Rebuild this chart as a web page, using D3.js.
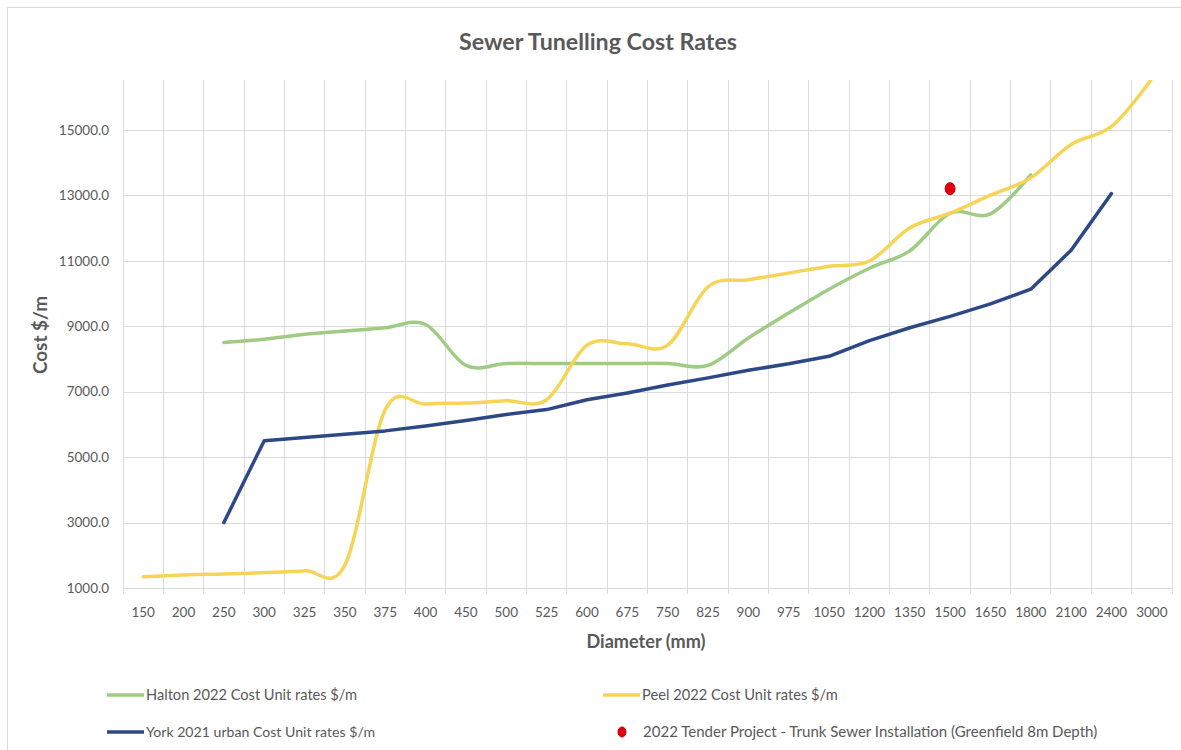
<!DOCTYPE html>
<html><head><meta charset="utf-8">
<script src="https://cdn.jsdelivr.net/npm/d3@7"></script>
<style>
html,body{margin:0;padding:0;background:#fff;}
svg{display:block;font-family:Lato,"Open Sans",sans-serif;}
</style></head>
<body>
<svg id="chart" width="1181" height="750"></svg>
<script>
// ---- data ----
const categories = ["150","200","250","300","325","350","375","400","450","500","525","600","675","750","825","900","975","1050","1200","1350","1500","1650","1800","2100","2400","3000"];
const halton = [null,null,8500,8600,8750,8850,8950,9050,7800,7860,7860,7860,7860,7860,7800,8640,9400,10130,10770,11300,12450,12430,13620,null,null,null];
const peel   = [1340,1400,1430,1470,1530,1700,6450,6620,6650,6720,6750,8420,8460,8420,10200,10420,10620,10830,10990,12000,12450,13000,13530,14550,15100,16560];
const york   = [null,null,3000,5500,5600,5700,5800,5950,6120,6300,6450,6750,6960,7200,7420,7650,7850,8080,8560,8950,9300,9680,10130,11320,13050,null];
const tenderCategory = ["1500"];
const tenderValue = [13200];
const yTicks = [1000,3000,5000,7000,9000,11000,13000,15000];
const seriesNames = ["Halton 2022 Cost Unit rates $/m","Peel 2022 Cost Unit rates $/m","York 2021 urban Cost Unit rates $/m","2022 Tender Project - Trunk Sewer Installation (Greenfield 8m Depth)"];
const titleText = "Sewer Tunelling Cost Rates";
const xTitle = "Diameter (mm)";
const yTitle = "Cost $/m";

// ---- layout ----
const svg = d3.select("#chart");
const L = 123, R = 1172, T = 80, B = 588;
const colors = {halton:"#9fcb84", peel:"#f6d456", york:"#2c4885", tender:"#e3000f", text:"#595959", grid:"#dcdcdc"};

function fit(sel, target){
  sel.each(function(){
    const el = this;
    let fs = parseFloat(el.getAttribute("font-size"));
    for(let k=0;k<4;k++){
      const w = el.getComputedTextLength();
      if(w>0){ fs = fs*target/w; el.setAttribute("font-size", fs.toFixed(2)); }
    }
  });
}

// border (top/left visible)
svg.append("rect").attr("x",7.5).attr("y",7.5).attr("width",1200).attr("height",800)
  .attr("fill","none").attr("stroke","#d9d9d9").attr("stroke-width",1);

const x = d3.scaleBand().domain(categories).range([L,R]).padding(0);
const y = d3.scaleLinear().domain([1000,16520]).range([B,T]);
const cx = c => x(c) + x.bandwidth()/2;

// vertical gridlines at category boundaries (extend below as tick marks)
const bounds = categories.map(c=>x(c)).concat([x(categories[categories.length-1])+x.bandwidth()]);
svg.append("g").selectAll("line").data(bounds).join("line")
  .attr("x1",d=>d).attr("x2",d=>d).attr("y1",T).attr("y2",B+6)
  .attr("stroke",colors.grid).attr("stroke-width",1).attr("shape-rendering","crispEdges");

// y axis with gridlines
const yAxis = svg.append("g").attr("transform",`translate(${L},0)`)
  .call(d3.axisLeft(y).tickValues(yTicks).tickFormat(d=>d.toFixed(1)).tickSize(-(R-L)).tickPadding(14));
yAxis.select(".domain").remove();
yAxis.selectAll(".tick line").attr("stroke",colors.grid).attr("shape-rendering","crispEdges");
yAxis.selectAll(".tick text").attr("fill",colors.text).attr("font-size",13.5)
  .attr("font-family","Lato, sans-serif");

// x axis labels
const xAxis = svg.append("g").attr("transform",`translate(0,${B})`)
  .call(d3.axisBottom(x).tickSize(0).tickPadding(18));
xAxis.select(".domain").remove();
xAxis.selectAll(".tick text").attr("fill",colors.text).attr("font-size",13.5)
  .attr("font-family","Lato, sans-serif").attr("dy","0.32em").attr("y",25);

// clip
svg.append("clipPath").attr("id","plot").append("rect")
  .attr("x",L).attr("y",T).attr("width",R-L).attr("height",B-T);

const smooth = d3.line().defined(d=>d[1]!=null).x(d=>cx(d[0])).y(d=>y(d[1])).curve(d3.curveCardinal.tension(0));
const straight = d3.line().defined(d=>d[1]!=null).x(d=>cx(d[0])).y(d=>y(d[1])).curve(d3.curveLinear);
const zip = arr => categories.map((c,i)=>[c,arr[i]]);

const g = svg.append("g").attr("clip-path","url(#plot)");
g.append("path").attr("d",smooth(zip(halton))).attr("fill","none").attr("stroke",colors.halton)
  .attr("stroke-width",3.5).attr("stroke-linecap","round").attr("stroke-linejoin","round");
g.append("path").attr("d",smooth(zip(peel))).attr("fill","none").attr("stroke",colors.peel)
  .attr("stroke-width",3.5).attr("stroke-linecap","round").attr("stroke-linejoin","round");
g.append("path").attr("d",straight(zip(york))).attr("fill","none").attr("stroke",colors.york)
  .attr("stroke-width",3.5).attr("stroke-linecap","round").attr("stroke-linejoin","round");
g.selectAll("ellipse.tender").data(tenderCategory.map((c,i)=>[c,tenderValue[i]])).join("ellipse")
  .attr("class","tender").attr("cx",d=>cx(d[0])).attr("cy",d=>y(d[1])).attr("rx",5).attr("ry",6)
  .attr("fill",colors.tender).attr("stroke","#b80000").attr("stroke-width",1);

// title
svg.append("text").attr("x",598).attr("y",50).attr("text-anchor","middle")
  .attr("font-weight","bold").attr("font-size",22).attr("fill",colors.text).text(titleText)
  .call(fit,278);

// axis titles
svg.append("text").attr("transform","translate(47,335) rotate(-90)").attr("text-anchor","middle")
  .attr("font-weight","bold").attr("font-size",14).attr("fill",colors.text).text(yTitle).call(fit,78);
svg.append("text").attr("x",646).attr("y",648).attr("text-anchor","middle")
  .attr("font-weight","bold").attr("font-size",14).attr("fill",colors.text).text(xTitle).call(fit,119);

// legend
const legend = [
  {name:seriesNames[0], type:"line", color:colors.halton, x:107, y:695, tx:146, w:211},
  {name:seriesNames[1], type:"line", color:colors.peel,   x:603, y:695, tx:642, w:196},
  {name:seriesNames[2], type:"line", color:colors.york,   x:107, y:732, tx:146, w:229},
  {name:seriesNames[3], type:"dot",  color:colors.tender, x:622, y:732, tx:643, w:454}
];
const lg = svg.append("g").selectAll("g").data(legend).join("g");
lg.filter(d=>d.type==="line").append("line")
  .attr("x1",d=>d.x).attr("x2",d=>d.x+37).attr("y1",d=>d.y).attr("y2",d=>d.y)
  .attr("stroke",d=>d.color).attr("stroke-width",3.5);
lg.filter(d=>d.type==="dot").append("ellipse")
  .attr("cx",d=>d.x).attr("cy",d=>d.y).attr("rx",4).attr("ry",5)
  .attr("fill",d=>d.color).attr("stroke","#b80000");
lg.append("text").attr("x",d=>d.tx).attr("y",d=>d.y).attr("dy","0.35em")
  .attr("font-size",13).attr("fill",colors.text).text(d=>d.name)
  .each(function(d){ d3.select(this).call(fit,d.w); });
</script>
</body></html>
